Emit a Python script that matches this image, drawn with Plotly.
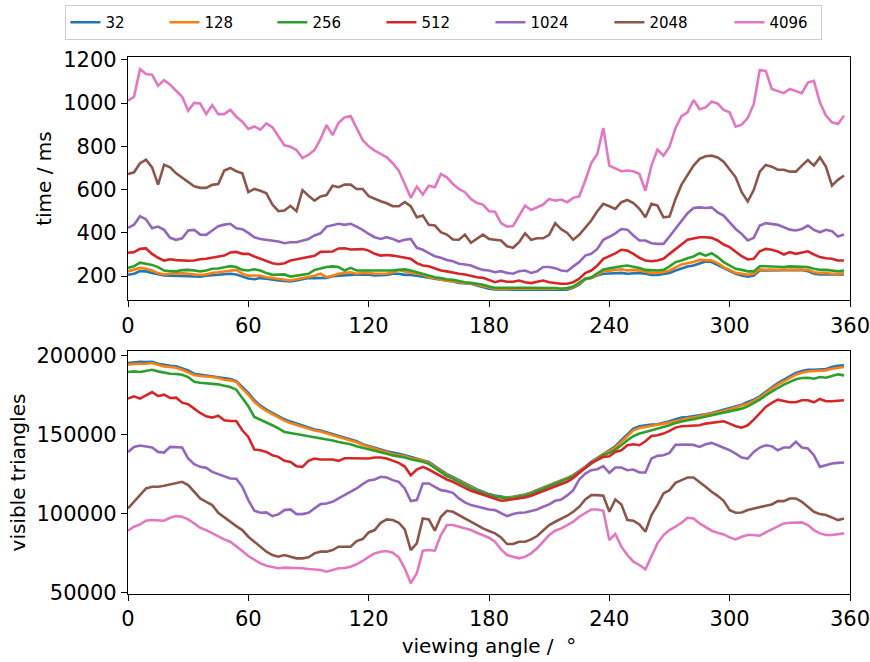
import plotly.graph_objects as go
from plotly.subplots import make_subplots

angles = list(range(0, 360, 3))
series_names = ["32", "128", "256", "512", "1024", "2048", "4096"]
colors = ["#1f77b4", "#ff7f0e", "#2ca02c", "#d62728", "#9467bd", "#8c564b", "#e377c2"]

# time / ms
t32 = [206,211,223,222,215,209,203,202,202,200, 200,198,197,202,205,208,211,211,208,198,
       189,186,191,188,183,180,178,175,180,186, 191,191,192,192,200,203,206,206,208,208,
       207,203,203,206,211,211,206,206,202,198, 195,188,183,180,175,169,168,165,157,149,
       142,138,137,135,137,137,137,137,138,138, 137,137,135,137,146,160,186,191,203,211,
       212,215,215,211,214,215,211,206,206,211, 215,226,237,245,249,260,268,265,252,237,
       226,211,203,198,203,226,226,226,229,226, 229,226,229,223,211,208,208,206,208,208]
t128 = [222,229,238,234,226,214,208,211,214,214, 211,208,205,208,215,218,222,223,229,211,
        202,203,202,195,191,186,183,180,186,191, 195,202,211,195,202,211,215,218,211,215,
        215,211,211,211,218,229,222,215,211,206, 195,191,183,180,177,171,169,165,160,154,
        146,142,142,140,142,142,143,142,142,142, 142,142,140,142,149,165,188,191,206,223,
        225,229,232,226,229,226,222,215,215,218, 226,242,254,260,265,275,272,272,260,242,
        229,215,211,206,211,231,229,231,229,231, 229,229,229,229,218,214,215,211,211,214]
t256 = [238,246,262,257,252,242,226,223,222,228, 229,226,222,226,234,235,242,246,242,229,
        226,232,226,214,206,206,208,198,203,208, 211,229,237,242,245,242,226,238,226,226,
        226,226,223,223,226,229,231,226,218,211, 203,195,191,185,183,177,172,169,165,160,
        152,146,146,145,145,146,146,146,146,145, 145,145,142,145,152,168,188,195,215,231,
        236,242,246,249,245,238,229,226,226,229, 245,265,272,283,291,306,295,306,288,265,
        249,234,229,222,222,246,246,245,242,242, 245,245,245,242,234,229,229,226,223,226]
t512 = [308,311,326,328,303,285,272,278,274,271, 271,272,278,280,285,288,295,309,312,303,
        303,291,280,269,260,255,260,272,277,282, 288,294,312,314,314,328,329,323,323,325,
        318,303,295,298,295,291,285,280,260,249, 246,237,226,222,215,211,208,200,195,192,
        183,172,180,174,174,180,172,168,174,180, 172,168,165,165,172,188,214,226,249,280,
        292,305,322,318,303,285,272,269,272,280, 303,326,349,368,374,380,380,377,365,346,
        334,314,292,277,280,315,326,322,314,300, 311,303,309,315,300,288,283,280,272,272]
t1024 = [423,438,477,462,421,429,414,377,368,375, 411,414,392,391,411,431,438,442,421,417,
         400,380,372,369,365,360,352,357,357,365, 372,388,398,429,434,442,437,442,429,414,
         395,380,372,380,372,360,368,372,331,322, 306,292,285,275,269,257,254,249,238,229,
         226,218,223,215,211,223,226,215,222,242, 242,237,226,223,245,265,295,303,326,368,
         382,398,418,415,388,365,365,352,349,349, 383,418,457,491,515,518,515,518,495,480,
         449,418,395,365,377,434,445,442,437,426, 415,411,418,434,414,403,414,408,383,392]
t2048 = [672,680,722,738,703,623,715,703,675,654, 634,615,608,608,622,626,688,700,685,675,
         588,603,595,583,531,500,503,525,500,598, 572,549,568,575,618,611,623,623,603,603,
         570,557,546,537,523,523,542,523,472,480, 437,434,403,392,369,368,392,354,372,392,
         372,369,365,338,331,357,398,368,375,375, 391,445,417,400,368,391,422,457,500,534,
         523,511,542,552,538,511,472,534,526,472, 475,557,623,665,711,742,754,757,749,729,
         695,657,588,545,598,683,714,706,692,692, 683,683,711,737,711,749,706,618,645,665]
t4096 = [1011,1029,1157,1134,1131,1080,1106,1085,1057,1029, 965,1001,998,949,991,949,949,969,937,914,
         880,892,877,906,888,849,805,798,783,746, 761,783,834,898,852,909,934,940,888,829,
         800,780,765,749,722,688,626,562,614,577, 618,611,672,657,626,603,588,557,538,531,
         500,498,445,429,432,480,526,506,518,531, 557,549,554,542,562,569,642,723,765,885,
         711,698,685,688,685,672,595,711,785,757, 798,885,940,957,1014,972,980,1006,998,968,
         957,891,900,931,995,1152,1149,1065,1057,1046, 1065,1054,1046,1095,1103,1003,942,911,903,942]

# visible triangles
v32 = [195500,196150,196360,196150,196360,195090,194250,193830,193400,192140,
       190870,188760,188120,187700,187280,186650,185590,185380,184110,180310,
       176510,171860,168480,165950,163840,161720,159820,158350,157080,155810,
       154540,153280,152640,151590,150530,149260,148210,147360,145880,143980,
       143000,141870,140600,139550,138490,137860,137010,135960,135110,134270,
       132790,130050,127360,124980,123290,121180,119060,116950,115260,113780,
       112300,111460,110610,110190,110610,111250,112090,113360,114840,116530,
       118010,119480,121180,122650,124340,126880,129620,132790,135320,138070,
       140180,142720,146520,150320,153910,155390,156020,156440,156660,157500,
       158560,159820,160880,161300,161720,162360,162990,163840,164890,165950,
       167000,168060,169120,170810,172280,174400,177140,180310,182840,184960,
       187070,189180,190450,191290,191290,191500,191720,192980,193830,194040]
v128 = [194670,195090,195090,195090,195520,194460,193400,192980,192560,191290,
        189810,187910,187280,187070,186650,186010,184960,184530,183480,179250,
        175450,170810,167640,165100,162990,160880,158980,157500,156230,154970,
        153910,152640,152010,150950,149690,148420,147360,146730,145250,143560,
        142300,141200,140000,138900,137800,137200,136300,135300,134400,133600,
        132100,129400,126700,124400,122700,120600,118500,116400,114700,113300,
        111800,111000,110200,109900,110300,110900,111800,113000,114500,116100,
        117600,119100,120800,122300,124000,126600,129300,132400,135000,137700,
        139550,141870,145460,149050,152850,154330,154970,155390,156020,156660,
        157710,158770,159820,160460,160880,161720,162360,162990,164050,165100,
        166160,167220,168270,169750,171440,173550,176510,179250,181790,183900,
        186010,188120,189390,190240,190450,190870,190870,191930,192560,192980]
v256 = [189810,190240,189810,190450,191290,190240,189390,188760,188550,188120,
        186650,183690,183060,182840,182420,182000,181160,180310,178620,173550,
        168060,161300,159610,158130,156020,154120,151800,151160,150530,149690,
        148840,148420,148000,147150,146310,145460,144830,143980,142720,141660,
        141000,140000,138900,137900,136900,136300,135500,134500,133700,132900,
        131500,128900,126200,123800,122200,120100,118100,116000,114400,113000,
        111600,110800,110000,109600,110000,110600,111400,112600,114100,115700,
        117200,118700,120400,121900,123600,126100,128800,131900,134500,137200,
        138490,140600,143350,146520,149050,150740,151800,152850,153910,154540,
        156020,157500,158560,159190,159820,160670,161300,161940,162990,163840,
        164890,165530,166580,168060,170170,172280,175030,177560,179680,181790,
        183480,185170,186010,186220,185590,186650,186220,187070,188340,187700]
v512 = [172920,174400,172920,175030,177140,174610,175450,173340,173550,170380,
        169330,166580,163840,161720,160880,162150,159190,158770,158770,152850,
        148630,140600,140180,139130,137010,135960,133420,132790,130050,129620,
        133420,134900,134270,134270,134270,133420,135110,135110,134900,134690,
        134900,135540,135540,134900,133420,132160,129830,124340,127930,129620,
        127930,125820,123290,121600,120120,118010,116320,114420,113150,111670,
        110190,108920,108080,108500,108920,109560,110190,111250,112730,114200,
        115470,116950,118430,120120,122650,125820,129200,132160,133840,135960,
        136380,139130,140180,143350,143980,143350,145880,149260,149690,150740,
        152430,154540,155390,155600,156020,156020,157080,157500,157710,158560,
        157080,155390,154540,156020,159610,163410,167640,170170,172280,171440,
        170600,170600,171860,171860,170600,172710,171230,171230,171440,171860]
v1024 = [139130,142290,143140,142720,141870,139130,138700,142290,142290,141870,
         134900,131310,129620,128990,126450,124980,123920,122230,122020,116950,
         108500,101740,100480,100690,98360,99420,102170,102590,99630,99630,
         100480,103220,105970,106390,107450,109560,111670,113360,115890,118640,
         121000,121600,123290,122860,121180,120120,115890,107870,108500,119060,
         119060,116950,114840,114200,113150,109560,107020,105330,104280,103650,
         102590,102170,100480,98360,99630,100480,100690,101530,102590,104280,
         105760,108080,108920,111460,114840,121600,125400,127510,128140,130050,
         125820,129200,129200,127510,127930,126030,126030,134900,136590,137010,
         138490,143560,143770,143770,143560,142290,143980,144830,143350,141870,
         140180,138070,135540,134900,139130,141870,143350,142720,140180,141870,
         141870,145460,141870,141240,137010,129620,130680,131730,132160,132370]
v2048 = [103220,107450,111040,115890,116950,116950,117580,118430,119480,120120,
         118010,113780,109560,107450,105330,100480,97520,94770,92030,89490,
         85270,82100,78930,75770,73650,72600,73650,72600,71540,71540,
         72180,74710,75770,75770,76820,78930,78930,78930,82520,83790,
         88000,89490,94140,96250,95830,94140,89920,76820,81050,96890,
         96250,89070,97940,101740,101110,99000,96890,94350,92660,90550,
         88860,87380,84850,80620,80620,82100,82100,83580,85690,89490,
         92660,94770,96460,98580,101110,104280,108920,111670,111670,111250,
         101110,108920,105760,95830,95410,93080,88440,99000,105330,112730,
         114840,119480,121180,122860,122860,120120,116950,113780,111250,108080,
         102170,100480,100690,102170,103220,104280,104910,105760,107870,107870,
         109560,109560,107450,104280,101110,99630,99000,97520,95830,96890]
v4096 = [89070,91610,93080,95410,95830,95830,95410,97310,98360,97940,
         96250,93720,90970,89490,87380,85270,83580,82100,79360,76190,
         73020,70490,68370,66900,66260,65210,65630,65630,65420,65210,
         64780,64570,64150,63090,64150,65210,65420,66260,67740,69850,
         72500,74710,75770,76190,75130,72180,65210,55700,62040,76400,
         76820,76400,86330,92660,92660,91610,90550,89490,87800,86330,
         84640,82100,77240,73650,72600,71540,72600,74710,77880,82100,
         86330,89070,90550,92660,94770,97940,100480,102590,102590,101740,
         83160,86960,78930,73650,69430,67320,64570,72600,81050,86330,
         89490,91610,94140,97310,96890,93720,91610,89070,87800,86750,
         84850,83580,85270,86330,86330,85900,88020,89920,91610,93720,
         94140,94350,94350,92660,89490,87380,86330,86330,86960,87380]

time_series = [t32, t128, t256, t512, t1024, t2048, t4096]
tri_series = [v32, v128, v256, v512, v1024, v2048, v4096]

x_ticks = [0, 60, 120, 180, 240, 300, 360]
time_ticks = [200, 400, 600, 800, 1000, 1200]
tri_ticks = [50000, 100000, 150000, 200000]
legend_widths = [54, 63, 64, 64, 74, 75, 47]

FONT = "DejaVu Sans"
TICK_SIZE = 21
LABEL_SIZE = 20
fig = make_subplots(rows=2, cols=1)

for i, name in enumerate(series_names):
    fig.add_trace(go.Scatter(x=angles, y=time_series[i], mode="lines", name=name,
                             line=dict(color=colors[i], width=2.6),
                             legendgroup=name, legendwidth=legend_widths[i]), row=1, col=1)
for i, name in enumerate(series_names):
    fig.add_trace(go.Scatter(x=angles, y=tri_series[i], mode="lines", name=name,
                             line=dict(color=colors[i], width=2.6),
                             legendgroup=name, showlegend=False), row=2, col=1)

axis_common = dict(showline=True, linecolor="black", linewidth=1.3, mirror=True,
                   ticks="outside", ticklen=6, tickwidth=1.3, tickcolor="black",
                   showgrid=False, zeroline=False, ticklabeloverflow="allow",
                   tickfont=dict(family=FONT, size=TICK_SIZE, color="black"))

fig.update_xaxes(range=[0, 360], tickvals=x_ticks, **axis_common)
fig.update_xaxes(domain=[0, 1], row=1, col=1)
fig.update_xaxes(title=dict(text="viewing angle / \u00a0°",
                            font=dict(family=FONT, size=LABEL_SIZE, color="black"),
                            standoff=8), row=2, col=1)
fig.update_yaxes(**axis_common)
fig.update_yaxes(range=[89, 1213], tickvals=time_ticks, domain=[0.5472, 1.0],
                 title=dict(text="time / ms", font=dict(family=FONT, size=LABEL_SIZE, color="black"), standoff=6),
                 row=1, col=1)
fig.update_yaxes(range=[48900, 203100], tickvals=tri_ticks, tickformat="d", domain=[0.0, 0.4523],
                 title=dict(text="visible triangles", font=dict(family=FONT, size=LABEL_SIZE, color="black"), standoff=5),
                 row=2, col=1)

fig.update_layout(
    width=870, height=662,
    margin=dict(l=128, r=20, t=57, b=68, autoexpand=False),
    paper_bgcolor="white", plot_bgcolor="white",
    font=dict(family=FONT, size=15, color="black"),
    legend=dict(orientation="h", x=-0.0867, xanchor="left", y=1.0968, yanchor="top",
                bordercolor="#cccccc", borderwidth=1, bgcolor="white",
                font=dict(family=FONT, size=15, color="black"),
                entrywidthmode="pixels"),
    showlegend=True,
)

fig.write_html("out.html")
